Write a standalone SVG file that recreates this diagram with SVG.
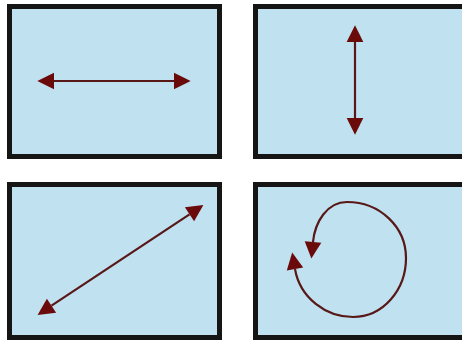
<svg xmlns="http://www.w3.org/2000/svg" width="462" height="343" viewBox="0 0 462 343">
<style>
.panel{fill:#c0e1ef;stroke:#151515;stroke-width:5}
.arr{fill:none;stroke:#581818;stroke-width:2.2;marker-start:url(#ah);marker-end:url(#ah)}
</style>
<defs>
<marker id="ah" markerUnits="userSpaceOnUse" markerWidth="20" markerHeight="20" viewBox="-1 -9 18 18" refX="0" refY="0" orient="auto-start-reverse">
<path d="M0,-7.5 L15,0 L0,7.5 Z" fill="#6b0a0a"/>
</marker>
</defs>
<rect width="462" height="343" fill="#ffffff"/>
<g id="panel-horizontal">
<rect class="panel" x="9.5" y="6.5" width="210" height="150"/>
</g>
<g id="panel-vertical">
<rect class="panel" x="255.5" y="6.5" width="220" height="150"/>
</g>
<g id="panel-diagonal">
<rect class="panel" x="9.5" y="184.5" width="210" height="153"/>
</g>
<g id="panel-rotation">
<rect class="panel" x="255.5" y="184.5" width="220" height="153"/>
</g>
<g id="connectors">
<path class="arr" d="M295,269 C300,298 326,317 353,317 C383,317 406,290 406,258 C406,227 380,202 347,202 C327,202 315,222 313,242"/>
<path class="arr" d="M54,81 L174,81"/>
<path class="arr" d="M355,42 L355,118"/>
<path class="arr" d="M51.5,305.7 L189.5,214.3"/>
</g>
</svg>
